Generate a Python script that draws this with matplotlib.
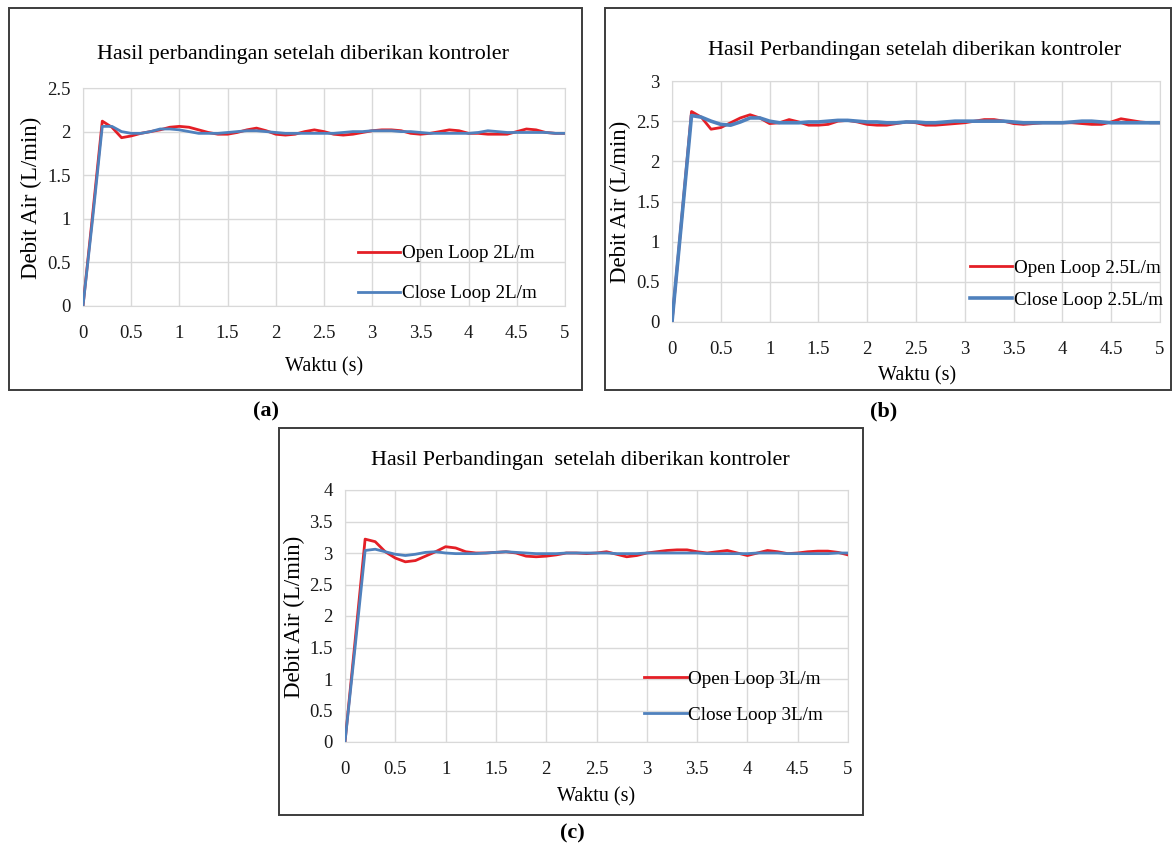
import numpy as np
import matplotlib
matplotlib.use("Agg")
import matplotlib.pyplot as plt
from matplotlib.patches import Rectangle

plt.rcParams['font.family'] = ['Liberation Serif', 'DejaVu Serif']

# time axis (s), sampled every 0.1 s
waktu = [0.0, 0.1, 0.2, 0.3, 0.4, 0.5, 0.6, 0.7, 0.8, 0.9,
         1.0, 1.1, 1.2, 1.3, 1.4, 1.5, 1.6, 1.7, 1.8, 1.9,
         2.0, 2.1, 2.2, 2.3, 2.4, 2.5, 2.6, 2.7, 2.8, 2.9,
         3.0, 3.1, 3.2, 3.3, 3.4, 3.5, 3.6, 3.7, 3.8, 3.9,
         4.0, 4.1, 4.2, 4.3, 4.4, 4.5, 4.6, 4.7, 4.8, 4.9, 5.0]

# (a) setpoint 2 L/m
open_2 = [0, 1.05, 2.12, 2.05, 1.93, 1.95, 1.98, 2.00, 2.02, 2.05,
          2.06, 2.05, 2.02, 1.99, 1.97, 1.97, 1.99, 2.02, 2.04, 2.01,
          1.97, 1.96, 1.97, 2.00, 2.02, 2.00, 1.97, 1.96, 1.97, 1.99,
          2.01, 2.02, 2.02, 2.01, 1.98, 1.97, 1.98, 2.00, 2.02, 2.01,
          1.98, 1.98, 1.97, 1.97, 1.97, 2.00, 2.03, 2.02, 1.99, 1.98, 1.98]
close_2 = [0, 1.00, 2.06, 2.06, 2.00, 1.98, 1.98, 2.00, 2.03, 2.03,
           2.02, 2.00, 1.98, 1.98, 1.98, 1.99, 2.00, 2.01, 2.01, 2.00,
           1.99, 1.98, 1.98, 1.98, 1.98, 1.98, 1.98, 1.99, 2.00, 2.00,
           2.01, 2.01, 2.01, 2.00, 2.00, 1.99, 1.98, 1.98, 1.98, 1.98,
           1.98, 1.99, 2.01, 2.00, 1.99, 1.99, 1.99, 1.99, 1.99, 1.98, 1.98]

# (b) setpoint 2.5 L/m
open_25 = [0, 1.30, 2.62, 2.55, 2.40, 2.42, 2.48, 2.54, 2.58, 2.54,
           2.47, 2.48, 2.52, 2.49, 2.45, 2.45, 2.46, 2.50, 2.51, 2.49,
           2.46, 2.45, 2.45, 2.47, 2.49, 2.48, 2.45, 2.45, 2.46, 2.47,
           2.48, 2.50, 2.52, 2.52, 2.50, 2.47, 2.46, 2.47, 2.48, 2.48,
           2.48, 2.48, 2.47, 2.46, 2.46, 2.49, 2.53, 2.51, 2.49, 2.48, 2.48]
close_25 = [0, 1.28, 2.57, 2.55, 2.50, 2.46, 2.45, 2.49, 2.54, 2.54,
            2.50, 2.48, 2.48, 2.48, 2.49, 2.49, 2.50, 2.51, 2.51, 2.50,
            2.49, 2.49, 2.48, 2.48, 2.49, 2.49, 2.48, 2.48, 2.49, 2.50,
            2.50, 2.50, 2.50, 2.50, 2.50, 2.49, 2.48, 2.48, 2.48, 2.48,
            2.48, 2.49, 2.50, 2.50, 2.49, 2.48, 2.48, 2.48, 2.48, 2.48, 2.48]

# (c) setpoint 3 L/m
open_3 = [0, 1.60, 3.22, 3.18, 3.02, 2.92, 2.86, 2.88, 2.95, 3.02,
          3.10, 3.08, 3.02, 3.00, 3.00, 3.01, 3.02, 3.00, 2.95, 2.94,
          2.95, 2.97, 3.00, 3.00, 2.99, 3.00, 3.02, 2.98, 2.94, 2.96,
          3.00, 3.02, 3.04, 3.05, 3.05, 3.02, 3.00, 3.02, 3.04, 3.00,
          2.96, 3.00, 3.04, 3.02, 2.99, 3.00, 3.02, 3.03, 3.03, 3.01, 2.97]
close_3 = [0, 1.50, 3.04, 3.06, 3.02, 2.98, 2.96, 2.98, 3.01, 3.02,
           3.00, 2.99, 2.99, 2.99, 3.00, 3.01, 3.02, 3.01, 3.00, 2.99,
           2.99, 2.99, 3.00, 3.00, 3.00, 3.00, 3.00, 2.99, 2.99, 2.99,
           3.00, 3.00, 3.00, 3.00, 3.00, 3.00, 2.99, 2.99, 2.99, 2.99,
           2.99, 3.00, 3.00, 3.00, 2.99, 2.99, 2.99, 2.99, 2.99, 3.00, 3.00]

x_ticks = [0, 0.5, 1, 1.5, 2, 2.5, 3, 3.5, 4, 4.5, 5]
x_ticklabels = ['0', '0.5', '1', '1.5', '2', '2.5', '3', '3.5', '4', '4.5', '5']

W, H = 1173, 848
RED = '#e41f26'
BLUE = '#4f81bd'

fig = plt.figure(figsize=(W / 100, H / 100), dpi=100)
fig.patch.set_facecolor('white')


def frame(l, t, r, b):
    fig.add_artist(Rectangle((l / W, 1 - b / H), (r - l) / W, (b - t) / H,
                             transform=fig.transFigure, fill=False,
                             ec='#3c3c3c', lw=1.4))


def text_px(x, y, s, **kw):
    fig.text(x / W, 1 - y / H, s, ha='center', va='center', **kw)


def panel(box, ymax, series, labels, leg_anchor, leg_space, blue_lw):
    l, t, r, b = box
    ax = fig.add_axes([l / W, 1 - b / H, (r - l) / W, (b - t) / H])
    ax.plot(waktu, series[0], color=RED, lw=2.0, label=labels[0], zorder=3)
    ax.plot(waktu, series[1], color=BLUE, lw=blue_lw, label=labels[1], zorder=3)
    ax.set_xlim(0, 5)
    ax.set_ylim(0, ymax)
    ax.set_xticks(x_ticks)
    ax.set_xticklabels(x_ticklabels)
    yt = np.arange(0, ymax + 0.01, 0.5)
    ax.set_yticks(yt)
    ax.set_yticklabels(['%g' % v for v in yt])
    ax.grid(True, color='#d9d9d9', lw=1.0)
    ax.set_axisbelow(True)
    for s in ax.spines.values():
        s.set_color('#d9d9d9')
    ax.tick_params(length=0, labelsize=13.5, colors='#1a1a1a')
    ax.tick_params(axis='x', pad=14)
    ax.tick_params(axis='y', pad=9)
    ax.legend(loc='upper left', bbox_to_anchor=leg_anchor, frameon=False,
              fontsize=13.8, handlelength=2.2, handletextpad=0.1,
              labelspacing=leg_space, borderaxespad=0)
    return ax


# (a)
frame(9, 8, 582, 390)
panel((83, 88, 565, 306), 2.5, (open_2, close_2),
      ('Open Loop 2L/m', 'Close Loop 2L/m'), (0.555, 0.315), 1.17, 2.0)
text_px(303, 54, 'Hasil perbandingan setelah diberikan kontroler', fontsize=15.8)
text_px(31, 198, 'Debit Air (L/min)', fontsize=16.5, rotation=90)
text_px(324, 367, 'Waktu (s)', fontsize=14.5)
text_px(266, 411, '(a)', fontsize=16, fontweight='bold')

# (b)
frame(605, 8, 1171, 390)
panel((672, 81, 1160, 322), 3.0, (open_25, close_25),
      ('Open Loop 2.5L/m', 'Close Loop 2.5L/m'), (0.595, 0.29), 0.75, 2.6)
text_px(915, 50, 'Hasil Perbandingan setelah diberikan kontroler', fontsize=15.8)
text_px(620, 202, 'Debit Air (L/min)', fontsize=16.5, rotation=90)
text_px(917, 376, 'Waktu (s)', fontsize=14.5)
text_px(884, 411, '(b)', fontsize=16, fontweight='bold')

# (c)
frame(279, 428, 863, 815)
panel((345, 490, 848, 742), 4.0, (open_3, close_3),
      ('Open Loop 3L/m', 'Close Loop 3L/m'), (0.58, 0.315), 0.96, 2.0)
text_px(580, 461, 'Hasil Perbandingan  setelah diberikan kontroler', fontsize=15.8)
text_px(294, 617, 'Debit Air (L/min)', fontsize=16.5, rotation=90)
text_px(596, 797, 'Waktu (s)', fontsize=14.5)
text_px(572, 833, '(c)', fontsize=16, fontweight='bold')

fig.savefig('out.png', dpi=100, facecolor='white')
